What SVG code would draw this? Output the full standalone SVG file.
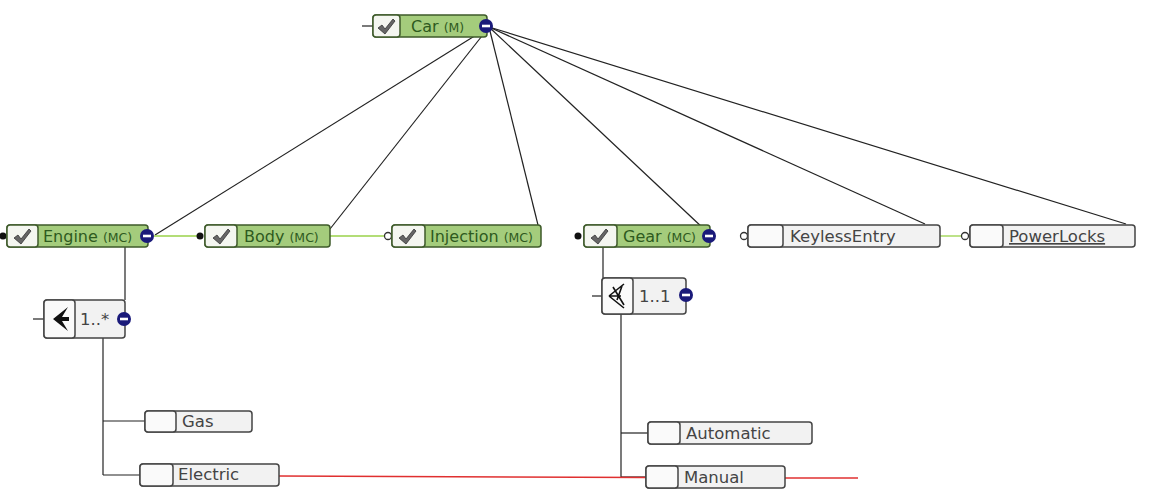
<svg xmlns="http://www.w3.org/2000/svg" width="1158" height="498" viewBox="0 0 1158 498">
<defs>
<style>
.gbox{fill:#a4cc7c;stroke:#3e5a2a;stroke-width:1.5}
.gchk{fill:#f4f6f0;stroke:#3e5a2a;stroke-width:1.5}
.wbox{fill:#f2f2f2;stroke:#444;stroke-width:1.5}
.wchk{fill:#fafafa;stroke:#444;stroke-width:1.5}
.lbl{font-family:"DejaVu Sans",sans-serif;font-size:16px;fill:#2e5a1e}
.wlbl{font-family:"DejaVu Sans",sans-serif;font-size:16.5px;fill:#444}
.sm{font-size:12.5px}
.edge{stroke:#222;stroke-width:1.2;fill:none}
.grn{stroke:#9ad24a;stroke-width:1.3;fill:none}
.red{stroke:#e03030;stroke-width:1.5;fill:none}
.dot{fill:#111}
.ring{fill:#fff;stroke:#333;stroke-width:1.3}
.chk{fill:#666;stroke:#333;stroke-width:0.8}
</style>
<g id="minus">
<circle r="7" fill="#1a1a7a"/>
<rect x="-4" y="-1.3" width="8" height="2.6" fill="#fff"/>
</g>
<path id="check" d="M-8,2 L-4,-1 L-1,3 L7,-7 L9,-5 L-1,8 Z"/>
</defs>

<g id="connectors">
<line class="edge" x1="489" y1="27" x2="155" y2="235"/>
<line class="edge" x1="489" y1="27" x2="330" y2="229"/>
<line class="edge" x1="489" y1="27" x2="538" y2="225"/>
<line class="edge" x1="489" y1="27" x2="704" y2="229"/>
<line class="edge" x1="489" y1="27" x2="925" y2="224"/>
<line class="edge" x1="489" y1="27" x2="1126" y2="224"/>
<line class="grn" x1="154" y1="236" x2="200" y2="236"/>
<line class="grn" x1="330" y1="236" x2="384" y2="236"/>
<line class="grn" x1="940" y1="236" x2="961" y2="236"/>
<line class="edge" x1="125" y1="246" x2="125" y2="300"/>
<line class="edge" x1="103" y1="338" x2="103" y2="475"/>
<line class="edge" x1="103" y1="421" x2="145" y2="421"/>
<line class="edge" x1="103" y1="475" x2="140" y2="475"/>
<line class="edge" x1="603" y1="246" x2="603" y2="278"/>
<line class="edge" x1="621" y1="314" x2="621" y2="478"/>
<line class="edge" x1="621" y1="433" x2="648" y2="433"/>
<line class="edge" x1="621" y1="477" x2="646" y2="477"/>
<line class="red" x1="279" y1="476" x2="646" y2="477.5"/>
<line class="red" x1="785" y1="478" x2="858" y2="478"/>
</g>

<g id="car">
<line class="edge" x1="362" y1="26" x2="373" y2="26"/>
<rect class="gbox" x="373" y="15" width="114" height="22" rx="3"/>
<rect class="gchk" x="373" y="15" width="27" height="22" rx="3"/>
<use href="#check" class="chk" x="386" y="26"/>
<text class="lbl" x="411" y="32">Car <tspan class="sm">(M)</tspan></text>
<use href="#minus" x="486" y="26"/>
</g>

<g id="engine">
<circle class="dot" cx="3" cy="236" r="3.5"/>
<rect class="gbox" x="7" y="225" width="141" height="22" rx="3"/>
<rect class="gchk" x="7" y="225" width="31" height="22" rx="3"/>
<use href="#check" class="chk" x="22" y="236"/>
<text class="lbl" x="43" y="242">Engine <tspan class="sm">(MC)</tspan></text>
<use href="#minus" x="147" y="236"/>
</g>

<g id="body">
<circle class="dot" cx="200" cy="236" r="3.5"/>
<rect class="gbox" x="205" y="225" width="125" height="22" rx="3"/>
<rect class="gchk" x="205" y="225" width="32" height="22" rx="3"/>
<use href="#check" class="chk" x="221" y="236"/>
<text class="lbl" x="244" y="242">Body <tspan class="sm">(MC)</tspan></text>
</g>

<g id="injection">
<circle class="ring" cx="388" cy="236" r="3.5"/>
<rect class="gbox" x="392" y="225" width="149" height="22" rx="3"/>
<rect class="gchk" x="392" y="225" width="33" height="22" rx="3"/>
<use href="#check" class="chk" x="407" y="236"/>
<text class="lbl" x="430" y="242">Injection <tspan class="sm">(MC)</tspan></text>
</g>

<g id="gear">
<circle class="dot" cx="578" cy="236" r="3.5"/>
<rect class="gbox" x="584" y="225" width="126" height="22" rx="3"/>
<rect class="gchk" x="584" y="225" width="33" height="22" rx="3"/>
<use href="#check" class="chk" x="599" y="236"/>
<text class="lbl" x="623" y="242">Gear <tspan class="sm">(MC)</tspan></text>
<use href="#minus" x="709" y="236"/>
</g>

<g id="keylessentry">
<circle class="ring" cx="744" cy="236" r="3.5"/>
<rect class="wbox" x="748" y="225" width="192" height="22" rx="3"/>
<rect class="wchk" x="748" y="225" width="35" height="22" rx="3"/>
<text class="wlbl" x="790" y="242">KeylessEntry</text>
</g>

<g id="powerlocks">
<circle class="ring" cx="965" cy="236" r="3.5"/>
<rect class="wbox" x="970" y="225" width="165" height="22" rx="3"/>
<rect class="wchk" x="970" y="225" width="33" height="22" rx="3"/>
<text class="wlbl" x="1009" y="242" text-decoration="underline">PowerLocks</text>
</g>

<g id="engine-group">
<line class="edge" x1="33" y1="319" x2="44" y2="319"/>
<rect class="wbox" x="44" y="300" width="81" height="38" rx="3"/>
<rect class="wchk" x="44" y="300" width="31" height="38" rx="3"/>
<path d="M53,319 L68,307 L62,317 L69,317 L69,321 L62,321 L68,331 Z" fill="#111"/>
<text class="wlbl" x="80" y="325">1..*</text>
<use href="#minus" x="124" y="319"/>
</g>

<g id="gear-group">
<line class="edge" x1="592" y1="296" x2="602" y2="296"/>
<rect class="wbox" x="602" y="278" width="84" height="36" rx="3"/>
<rect class="wchk" x="602" y="278" width="31" height="36" rx="3"/>
<path d="M609,296 L624,284 M609,296 L624,308 M609,296 L621,296 M613,287 L624,305 M622,286 L617,300" stroke="#111" stroke-width="1.6" fill="none"/>
<text class="wlbl" x="639" y="302">1..1</text>
<use href="#minus" x="686" y="295"/>
</g>

<g id="gas">
<rect class="wbox" x="145" y="411" width="107" height="21" rx="3"/>
<rect class="wchk" x="145" y="411" width="31" height="21" rx="3"/>
<text class="wlbl" x="182" y="427">Gas</text>
</g>

<g id="electric">
<rect class="wbox" x="140" y="464" width="139" height="22" rx="3"/>
<rect class="wchk" x="140" y="464" width="33" height="22" rx="3"/>
<text class="wlbl" x="178" y="480">Electric</text>
</g>

<g id="automatic">
<rect class="wbox" x="648" y="422" width="164" height="22" rx="3"/>
<rect class="wchk" x="648" y="422" width="32" height="22" rx="3"/>
<text class="wlbl" x="686" y="439">Automatic</text>
</g>

<g id="manual">
<rect class="wbox" x="646" y="466" width="139" height="22" rx="3"/>
<rect class="wchk" x="646" y="466" width="32" height="22" rx="3"/>
<text class="wlbl" x="684" y="483">Manual</text>
</g>
</svg>
